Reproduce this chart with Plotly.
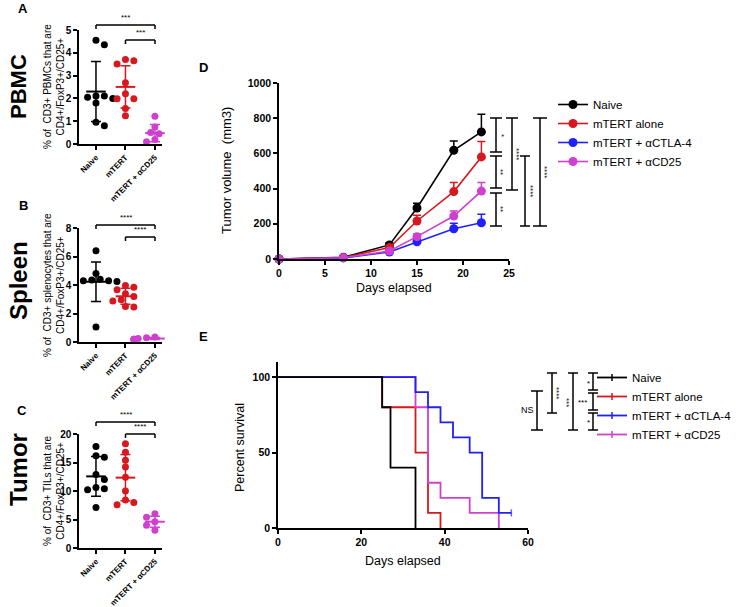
import numpy as np
import plotly.graph_objects as go

W, H = 748, 607
F = "Arial, Liberation Sans, sans-serif"


def fx(p):
    return p / W


def fy(p):
    return 1 - p / H


# ---------------- data ----------------
groups = ["Naive", "mTERT", "mTERT + αCD25"]
pbmc_naive = [4.55, 4.35, 2.1, 2.1, 2.05, 2.0, 1.8, 0.95, 0.8]
pbmc_mtert = [3.71, 3.65, 3.51, 2.69, 2.2, 1.99, 1.99, 1.56, 1.24]
pbmc_cd25 = [1.22, 0.75, 0.72, 0.5, 0.45, 0.3, 0.2, 0.1, 0.05]
spleen_naive = [6.4, 4.8, 4.4, 4.35, 4.3, 4.3, 4.25, 4.2, 1.05]
spleen_mtert = [3.97, 3.85, 3.67, 3.39, 3.2, 2.97, 2.87, 2.5, 2.45]
spleen_cd25 = [0.35, 0.3, 0.3, 0.25, 0.25, 0.2, 0.2, 0.2, 0.15]
tumor_naive = [17.8, 16.2, 15.9, 12.9, 12.0, 10.6, 10.4, 10.2, 7.1]
tumor_mtert = [18.3, 16.8, 15.4, 14.2, 12.4, 10.0, 8.4, 8.0, 7.6]
tumor_cd25 = [6.0, 5.6, 5.4, 5.0, 4.6, 4.3, 4.0, 3.5, 3.1]
pbmc_stars = ["***", "***"]
spleen_stars = ["****", "****"]
tumor_stars = ["****", "****"]

series_names = ["Naive", "mTERT alone", "mTERT + αCTLA-4", "mTERT + αCD25"]
days = [0, 7, 12, 15, 19, 22]
vol_naive = [0, 10, 80, 290, 618, 722]
vol_naive_sd = [0, 5, 12, 27, 53, 100]
vol_mtert = [0, 8, 65, 216, 383, 580]
vol_mtert_sd = [0, 4, 10, 32, 51, 87]
vol_ctla4 = [0, 6, 40, 98, 172, 206]
vol_ctla4_sd = [0, 3, 8, 12, 31, 48]
vol_cd25 = [0, 7, 45, 127, 244, 386]
vol_cd25_sd = [0, 3, 8, 15, 29, 48]
d_stars = ["*", "**", "**", "****", "****", "****"]

surv_t_naive = [0, 25, 27, 33]
surv_naive = [100, 80, 40, 0]
surv_t_mtert = [0, 25, 33, 36, 39]
surv_mtert = [100, 80, 50, 10, 0]
surv_t_ctla4 = [0, 33, 36, 39, 42, 46, 49, 53, 56]
surv_ctla4 = [100, 90, 80, 70, 60, 50, 20, 10, 10]
surv_ctla4_censored = [0, 0, 0, 0, 0, 0, 0, 0, 1]
surv_t_cd25 = [0, 33, 36, 39, 46, 53]
surv_cd25 = [100, 80, 30, 20, 10, 0]
e_stars = ["NS", "****", "***", "*", "***", "*"]

BLACK = "#000000"
RED = "#d7191f"
BLUE = "#1f1fff"
MAG = "#cf40cf"

fig = go.Figure()


def swarm(vals, ppu_y, ppu_x=29.5, d=7.0):
    placed, offs = [], []
    for v in vals:
        y = v * ppu_y
        x = 0.0
        for k in [0, 1, -1, 2, -2, 3, -3, 4, -4, 5, -5]:
            x = k * d * 0.6
            if all((x - a) ** 2 + (y - b) ** 2 >= (d * 0.95) ** 2 for a, b in placed):
                break
        placed.append((x, y))
        offs.append(x / ppu_x)
    return offs


axis_common = dict(showline=True, linecolor="black", linewidth=1.5, ticks="outside",
                   ticklen=4, tickwidth=1.5, tickcolor="black", showgrid=False,
                   zeroline=False, fixedrange=True, automargin=False)

panels = [
    dict(ax="", top=30, bot=144, yr=[0, 5], dtick=1,
         data=[pbmc_naive, pbmc_mtert, pbmc_cd25], stars=pbmc_stars, br=[25, 40]),
    dict(ax="2", top=228, bot=342, yr=[0, 8], dtick=2,
         data=[spleen_naive, spleen_mtert, spleen_cd25], stars=spleen_stars, br=[225, 237]),
    dict(ax="3", top=434, bot=548, yr=[0, 20], dtick=5,
         data=[tumor_naive, tumor_mtert, tumor_cd25], stars=tumor_stars, br=[422, 434]),
]
dot_colors = [BLACK, RED, MAG]

shapes = []
annotations = []


def line(x0, y0, x1, y1, w=1.5, color="black"):
    shapes.append(dict(type="line", xref="paper", yref="paper", x0=fx(x0), y0=fy(y0),
                       x1=fx(x1), y1=fy(y1), line=dict(color=color, width=w)))


def txt(x, y, s, size, bold=False, angle=0, xa="center", ya="middle"):
    annotations.append(dict(x=fx(x), y=fy(y), xref="paper", yref="paper", text=s,
                            showarrow=False, textangle=angle, xanchor=xa, yanchor=ya,
                            font=dict(family=F, size=size, color="black",
                                      weight="bold" if bold else "normal")))


def hbracket(x0, x1, y, label, drop=4):
    line(x0, y, x1, y)
    line(x0, y, x0, y + drop)
    line(x1, y, x1, y + drop)
    txt((x0 + x1) / 2, y - 1, label, 8, ya="bottom")


def vbracket(x, y0, y1, cap=6):
    line(x, y0, x, y1)
    line(x - cap, y0, x + cap, y0)
    line(x - cap, y1, x + cap, y1)


cat_px = [96, 125.5, 155]
for p in panels:
    ppu = (p["bot"] - p["top"]) / (p["yr"][1] - p["yr"][0])
    xa, ya = "x" + p["ax"], "y" + p["ax"]
    for i, (vals, c) in enumerate(zip(p["data"], dot_colors)):
        offs = swarm(vals, ppu)
        fig.add_trace(go.Scatter(x=[i + o for o in offs], y=vals, mode="markers",
                                 marker=dict(size=7, color=c), xaxis=xa, yaxis=ya,
                                 showlegend=False, cliponaxis=False, hoverinfo="skip"))
        m = float(np.mean(vals))
        s = float(np.std(vals, ddof=1))
        fig.add_trace(go.Scatter(x=[i], y=[m], mode="markers",
                                 marker=dict(symbol="line-ew", size=14, color=c,
                                             line=dict(width=2, color=c)),
                                 error_y=dict(type="data", array=[s], width=5,
                                              thickness=1.5, color=c),
                                 xaxis=xa, yaxis=ya, showlegend=False, cliponaxis=False))
    fig.update_layout(**{
        "xaxis" + p["ax"]: dict(axis_common, domain=[fx(79), fx(162)], range=[-0.576, 2.24],
                                tickvals=[0, 1, 2], ticktext=groups, tickangle=-45,
                                anchor=ya,
                                tickfont=dict(family=F, size=8, color="black", weight="bold")),
        "yaxis" + p["ax"]: dict(axis_common, domain=[fy(p["bot"]), fy(p["top"])],
                                range=p["yr"], dtick=p["dtick"], anchor=xa,
                                tickfont=dict(family=F, size=10, color="black", weight="bold")),
    })
    hbracket(cat_px[0], cat_px[2], p["br"][0], p["stars"][0])
    hbracket(cat_px[1], cat_px[2], p["br"][1], p["stars"][1])

# ---------------- panel D ----------------
d_series = [(vol_naive, vol_naive_sd, BLACK), (vol_mtert, vol_mtert_sd, RED),
            (vol_ctla4, vol_ctla4_sd, BLUE), (vol_cd25, vol_cd25_sd, MAG)]
for name, (v, sd, c) in zip(series_names, d_series):
    fig.add_trace(go.Scatter(x=days, y=v, mode="lines+markers", name=name,
                             line=dict(color=c, width=1.6), marker=dict(size=9, color=c),
                             error_y=dict(type="data", symmetric=False, array=sd,
                                          arrayminus=[0] * len(sd), width=4,
                                          thickness=1.5, color=c),
                             xaxis="x4", yaxis="y4", legend="legend", cliponaxis=False))

fig.update_layout(
    xaxis4=dict(axis_common, domain=[fx(279), fx(509)], range=[0, 25], dtick=5, anchor="y4",
                tickfont=dict(family=F, size=10.5, color="black", weight="bold")),
    yaxis4=dict(axis_common, domain=[fy(259), fy(83)], range=[0, 1000], dtick=200, anchor="x4",
                tickfont=dict(family=F, size=10.5, color="black", weight="bold")),
)
vbracket(496, 118, 152)
vbracket(496, 156, 188)
vbracket(496, 193, 226)
vbracket(512, 118, 190)
vbracket(525, 156, 226, 5)
vbracket(540, 118, 226, 7)
for (x, y), s in zip([(501, 135), (501, 172), (501, 209), (517, 154), (530, 191), (545, 172)], d_stars):
    txt(x, y, s, 8, angle=90)

# ---------------- panel E ----------------
e_series = [(surv_t_mtert, surv_mtert, RED, None), (surv_t_cd25, surv_cd25, MAG, None),
            (surv_t_ctla4, surv_ctla4, BLUE, surv_ctla4_censored),
            (surv_t_naive, surv_naive, BLACK, None)]
for t, s, c, cens in e_series:
    if cens is None:
        fig.add_trace(go.Scatter(x=t, y=s, mode="lines", line=dict(color=c, width=1.8, shape="hv"),
                                 xaxis="x5", yaxis="y5", showlegend=False, cliponaxis=False))
    else:
        fig.add_trace(go.Scatter(x=t, y=s, mode="lines+markers",
                                 line=dict(color=c, width=1.8, shape="hv"),
                                 marker=dict(symbol="line-ns-open", size=[5 * k for k in cens],
                                             line=dict(color="black", width=1.5)),
                                 xaxis="x5", yaxis="y5", showlegend=False, cliponaxis=False))
for name, c in zip(series_names, [BLACK, RED, BLUE, MAG]):
    fig.add_trace(go.Scatter(x=[None], y=[None], mode="lines+markers", name=name,
                             line=dict(color=c, width=1.8),
                             marker=dict(symbol="line-ns-open", size=5,
                                         line=dict(color="black", width=1.5)),
                             xaxis="x5", yaxis="y5", legend="legend2"))

fig.update_layout(
    xaxis5=dict(axis_common, domain=[fx(278), fx(528)], range=[0, 60], dtick=20, anchor="y5",
                tickfont=dict(family=F, size=10.5, color="black", weight="bold")),
    yaxis5=dict(axis_common, domain=[fy(528), fy(362)], range=[0, 110], tickvals=[0, 50, 100],
                anchor="x5", tickfont=dict(family=F, size=10.5, color="black", weight="bold")),
)
vbracket(537, 391, 430)
vbracket(552, 373, 413, 5)
vbracket(573, 373, 430, 5)
vbracket(593, 373, 390, 5)
vbracket(593, 393, 410, 5)
vbracket(593, 413, 430, 5)
txt(527, 410, e_stars[0], 9)
txt(557, 393, e_stars[1], 8, angle=90)
txt(567, 402, e_stars[2], 8, angle=90)
txt(588, 383, e_stars[3], 8)
txt(582, 402, e_stars[4], 8)
txt(588, 422, e_stars[5], 8)

# ---------------- text ----------------
for s, x, y in [("A", 23, 9), ("B", 23, 205), ("C", 22, 410), ("D", 204, 68), ("E", 204, 336)]:
    txt(x, y, s, 13, bold=True)
for s, y, sz in [("PBMC", 87, 22), ("Spleen", 281, 24), ("Tumor", 470, 24)]:
    txt(18, y, s, sz, bold=True, angle=-90)
for s, y in [("% of&nbsp; CD3+ PBMCs that are<br>CD4+/FoxP3+/CD25+", 87),
             ("% of&nbsp; CD3+ splenocytes that are<br>CD4+/FoxP3+/CD25+", 285),
             ("% of&nbsp; CD3+ TILs that are<br>CD4+/FoxP3+/CD25+", 491)]:
    txt(54, y, s, 10, angle=-90)
txt(226, 171, "Tumor volume&nbsp; (mm3)", 13, angle=-90)
txt(394, 288, "Days elapsed", 12.5)
txt(240, 448, "Percent survival", 12.5, angle=-90)
txt(403, 561, "Days elapsed", 12.5)

legend_common = dict(font=dict(family=F, size=11.5, color="black"), bgcolor="rgba(0,0,0,0)",
                     borderwidth=0, itemwidth=30, traceorder="normal",
                     xanchor="left", yanchor="top", tracegroupgap=0)
fig.update_layout(
    width=W, height=H, autosize=False,
    margin=dict(l=0, r=0, t=0, b=0, pad=0, autoexpand=False),
    paper_bgcolor="white", plot_bgcolor="white", showlegend=True,
    legend=dict(legend_common, x=fx(553), y=fy(90)),
    legend2=dict(legend_common, x=fx(592), y=fy(363)),
    shapes=shapes, annotations=annotations,
    font=dict(family=F, color="black"),
)

post = (
    "var de=document.documentElement, b=document.body;"
    "[de,b].forEach(function(e){e.style.margin='0';e.style.padding='0';"
    "e.style.overflow='hidden';});"
)
fig.write_html("out.html", config={"displayModeBar": False}, post_script=post)
